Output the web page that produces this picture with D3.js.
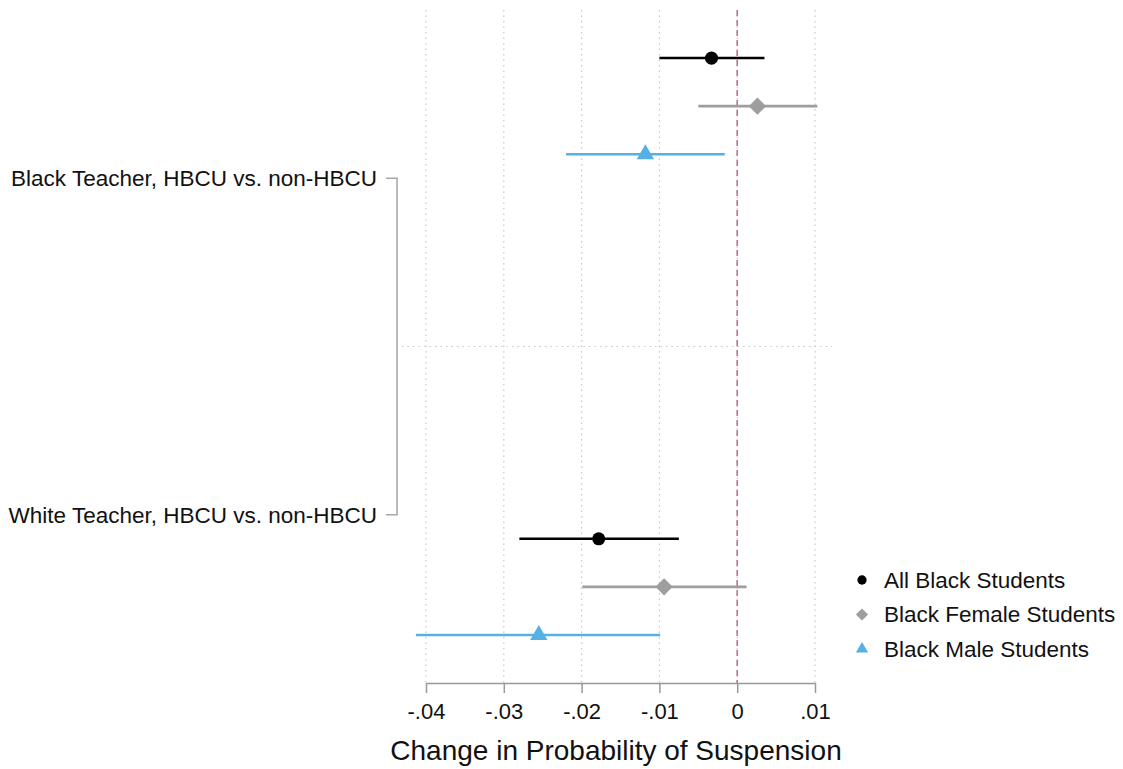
<!DOCTYPE html>
<html>
<head>
<meta charset="utf-8">
<script src="https://cdn.jsdelivr.net/npm/d3@7"></script>
<style>
  body { margin: 0; background: #fff; }
  svg { font-family: "Liberation Sans", Arial, Helvetica, sans-serif; }
</style>
</head>
<body>
<svg></svg>
<script>
var series = ['All Black Students', 'Black Female Students', 'Black Male Students'];
var groups = ['Black Teacher, HBCU vs. non-HBCU', 'White Teacher, HBCU vs. non-HBCU'];
// point estimates, one row per group, one column per series
var estimates = [[-0.0033, 0.0026, -0.0118], [-0.0178, -0.0094, -0.0255]];
var lower = [[-0.0100, -0.0050, -0.0220], [-0.0280, -0.0199, -0.0413]];
var upper = [[0.0035, 0.0103, -0.0016], [-0.0075, 0.0012, -0.0099]];
var xTicks = [-0.04, -0.03, -0.02, -0.01, 0, 0.01];
var xTitle = 'Change in Probability of Suspension';

var w = 1123;
var h = 769;

var colors = ['#000000', '#9e9e9e', '#55b0e3'];
var shapes = [d3.symbolCircle, d3.symbolSquare, d3.symbolTriangle];
var sizes = [135, 150, 130];
var rotations = [0, 45, 0];

var svg = d3.select('svg')
            .attr('width', w)
            .attr('height', h);

var x = d3.scaleLinear()
          .domain([-0.04, 0.01])
          .range([426, 815]);

// row positions: 1..3 for first group, 11..13 for second
var y = d3.scaleLinear()
          .domain([0, 14])
          .range([10, 683]);

var rowPos = function(g, s){ return g * 10 + s + 1; };
var groupPos = [3.5, 10.5];

var fmt = function(v){
  if (v === 0) return '0';
  return d3.format('.2f')(v).replace('0.', '.').replace('\u2212', '-');
};

// vertical dotted gridlines
svg.append('g')
   .selectAll('line')
   .data(xTicks)
   .enter()
   .append('line')
   .attr('x1', function(d){ return x(d); })
   .attr('x2', function(d){ return x(d); })
   .attr('y1', y(0))
   .attr('y2', y(14))
   .attr('stroke', '#c8c8c8')
   .attr('stroke-width', 1.2)
   .attr('stroke-dasharray', '1.5,4');

// horizontal dotted separator
svg.append('line')
   .attr('x1', 402)
   .attr('x2', 832)
   .attr('y1', y(7))
   .attr('y2', y(7))
   .attr('stroke', '#c8c8c8')
   .attr('stroke-width', 1.2)
   .attr('stroke-dasharray', '1.5,4');

// zero reference line
svg.append('line')
   .attr('x1', x(0))
   .attr('x2', x(0))
   .attr('y1', y(0))
   .attr('y2', y(14))
   .attr('stroke', '#c0709a')
   .attr('stroke-width', 1.6)
   .attr('stroke-dasharray', '6,4');

// x axis
var xAxis = d3.axisBottom(x)
              .tickValues(xTicks)
              .tickFormat(fmt)
              .tickSize(10)
              .tickSizeOuter(0);

var axisG = svg.append('g')
               .attr('transform', 'translate(0,' + y(14) + ')')
               .call(xAxis);
axisG.select('.domain').attr('stroke', '#999').attr('stroke-width', 1.5);
axisG.selectAll('.tick line').attr('stroke', '#999').attr('stroke-width', 1.5);
axisG.selectAll('.tick text')
     .attr('font-size', 22)
     .attr('fill', '#111')
     .attr('dy', '1.05em')
     .attr('font-family', '"Liberation Sans", Arial, sans-serif');

svg.append('text')
   .attr('x', 616)
   .attr('y', 760)
   .attr('text-anchor', 'middle')
   .attr('font-size', 28)
   .attr('fill', '#111')
   .text(xTitle);

// group labels and bracket
svg.append('path')
   .attr('d', 'M386,' + y(groupPos[0]) + 'H397V' + y(groupPos[1]) + 'H386')
   .attr('fill', 'none')
   .attr('stroke', '#a8a8a8')
   .attr('stroke-width', 1.6);

svg.append('g')
   .selectAll('text')
   .data(groups)
   .enter()
   .append('text')
   .attr('x', 377)
   .attr('y', function(d, i){ return y(groupPos[i]); })
   .attr('dy', '0.35em')
   .attr('text-anchor', 'end')
   .attr('font-size', 22.5)
   .attr('fill', '#111')
   .text(function(d){ return d; });

// confidence intervals and point estimates
var rows = [];
groups.forEach(function(g, gi){
  series.forEach(function(s, si){
    rows.push({g: gi, s: si, est: estimates[gi][si], lo: lower[gi][si], hi: upper[gi][si]});
  });
});

var marks = svg.append('g')
               .selectAll('g')
               .data(rows)
               .enter()
               .append('g');

marks.append('line')
     .attr('x1', function(d){ return x(d.lo); })
     .attr('x2', function(d){ return x(d.hi); })
     .attr('y1', function(d){ return y(rowPos(d.g, d.s)); })
     .attr('y2', function(d){ return y(rowPos(d.g, d.s)); })
     .attr('stroke', function(d){ return colors[d.s]; })
     .attr('stroke-width', 2.6);

marks.append('path')
     .attr('d', function(d){ return d3.symbol().type(shapes[d.s]).size(sizes[d.s])(); })
     .attr('transform', function(d){
       return 'translate(' + x(d.est) + ',' + y(rowPos(d.g, d.s)) + ') rotate(' + rotations[d.s] + ')';
     })
     .attr('fill', function(d){ return colors[d.s]; });

// legend
var legend = svg.append('g')
                .selectAll('g')
                .data(series)
                .enter()
                .append('g')
                .attr('transform', function(d, i){ return 'translate(862,' + (580 + i * 34.5) + ')'; });

legend.append('path')
      .attr('d', function(d, i){ return d3.symbol().type(shapes[i]).size(sizes[i] * 0.5)(); })
      .attr('transform', function(d, i){ return 'rotate(' + rotations[i] + ')'; })
      .attr('fill', function(d, i){ return colors[i]; });

legend.append('text')
      .attr('x', 22)
      .attr('dy', '0.35em')
      .attr('font-size', 22.5)
      .attr('fill', '#111')
      .text(function(d){ return d; });
</script>
</body>
</html>
